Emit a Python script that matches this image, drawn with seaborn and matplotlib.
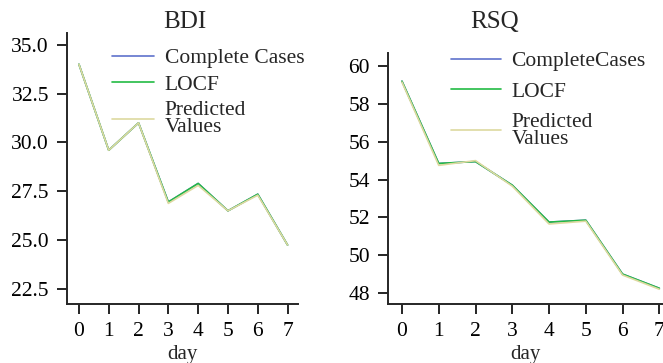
import matplotlib
matplotlib.use("Agg")
import matplotlib.pyplot as plt
import seaborn as sns
import pandas as pd

days = [0, 1, 2, 3, 4, 5, 6, 7]
bdi_complete = [34.0, 29.6, 31.0, 26.95, 27.9, 26.5, 27.35, 24.75]
bdi_locf = [34.0, 29.6, 31.0, 26.95, 27.9, 26.5, 27.35, 24.75]
bdi_pred = [34.0, 29.6, 31.0, 26.88, 27.8, 26.5, 27.3, 24.75]
rsq_complete = [59.2, 54.85, 54.95, 53.7, 51.75, 51.85, 49.0, 48.25]
rsq_locf = [59.2, 54.85, 54.95, 53.7, 51.75, 51.85, 49.0, 48.25]
rsq_pred = [59.15, 54.75, 55.0, 53.65, 51.65, 51.8, 48.95, 48.2]

bdi_labels = ["Complete Cases", "LOCF", "Predicted\nValues"]
rsq_labels = ["CompleteCases", "LOCF", "Predicted\nValues"]
colors = ["#5f72cc", "#22bb44", "#ddd9a0"]

sns.set_theme(style="ticks")
plt.rcParams['font.family'] = ['Liberation Serif', 'DejaVu Serif']

def make_df(labels, series):
    rows = []
    for lab, vals in zip(labels, series):
        for d, v in zip(days, vals):
            rows.append({"day": d, "value": v, "method": lab})
    return pd.DataFrame(rows)

fig = plt.figure(figsize=(6.63, 3.63), dpi=100)
ax1 = fig.add_axes([67/663, 1-304/363, 231/663, 271/363])
ax2 = fig.add_axes([388/663, 1-304/363, 275/663, 251/363])

df1 = make_df(bdi_labels, [bdi_complete, bdi_locf, bdi_pred])
df2 = make_df(rsq_labels, [rsq_complete, rsq_locf, rsq_pred])

setups = [(ax1, df1, bdi_labels, "BDI", 185/663, 112/663, 1-48/363, 0.3, 1.95, 0.5),
          (ax2, df2, rsq_labels, "RSQ", 495/663, 451/663, 1-51/363, 0.5, 2.3, 0.5)]
for ax, df, labels, title, tx, lx, ly, lsp, hl, htp in setups:
    sns.lineplot(data=df, x="day", y="value", hue="method", hue_order=labels,
                 palette=colors, ax=ax, linewidth=1.2, legend=True)
    sns.despine(ax=ax)
    ax.set_ylabel("")
    ax.set_xlabel("day", fontsize=15, labelpad=3)
    ax.set_xticks(days)
    ax.tick_params(axis="both", labelsize=15.5, length=7, width=1.2,
                   direction="out", colors="black", pad=6)
    for s in ax.spines.values():
        s.set_linewidth(1.4)
    fig.text(tx, 1-22/363, title, ha="center", va="center", fontsize=18)
    leg = ax.legend(frameon=False, fontsize=15.5, loc="upper left",
                    bbox_to_anchor=(lx, ly), bbox_transform=fig.transFigure,
                    handlelength=hl, labelspacing=lsp, borderaxespad=0.0,
                    borderpad=0.0, handletextpad=htp)
    for t in leg.get_texts():
        t.set_linespacing(0.88)

ax1.set_xlim(-0.4, 7.35)
ax1.set_ylim(21.73, 35.6)
ax1.set_yticks([22.5, 25.0, 27.5, 30.0, 32.5, 35.0])
ax1.set_yticklabels(["22.5", "25.0", "27.5", "30.0", "32.5", "35.0"])
ax2.set_xlim(-0.38, 7.1)
ax2.set_ylim(47.42, 60.69)
ax2.set_yticks([48, 50, 52, 54, 56, 58, 60])

fig.savefig("out.png", dpi=100)
